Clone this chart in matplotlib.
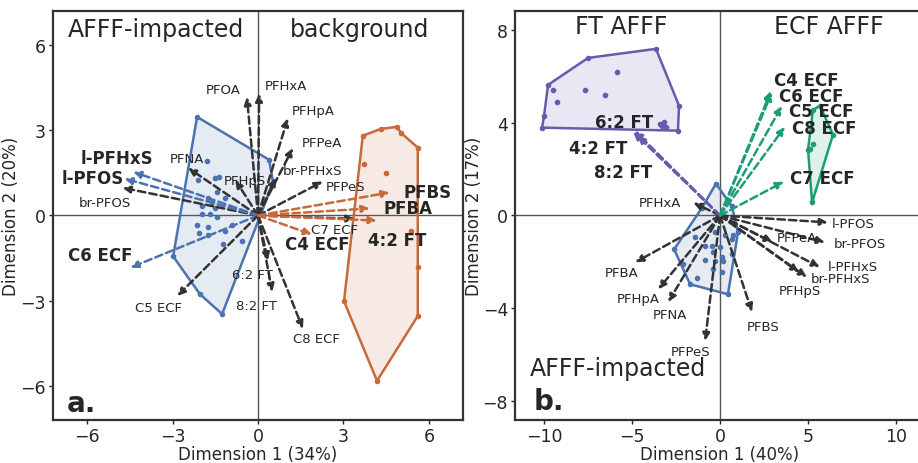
import numpy as np
import matplotlib.pyplot as plt

plt.rcParams['font.family'] = ['DejaVu Sans']
plt.rcParams['text.color'] = '#262626'
plt.rcParams['axes.labelcolor'] = '#262626'
plt.rcParams['xtick.color'] = '#262626'
plt.rcParams['ytick.color'] = '#262626'

BLUE = '#4c72b0'
ORANGE = '#c8693a'
PURPLE = '#6a5aac'
GREEN = '#1b9e77'
DARK = '#333333'

# ---------------- panel a data ----------------
a_names = ['PFOA', 'PFHxA', 'PFHpA', 'PFPeA', 'br-PFHxS', 'PFPeS', 'PFHpS', 'PFNA',
           'br-PFOS', 'l-PFOS', 'l-PFHxS', 'C6 ECF', 'C5 ECF', '6:2 FT', '8:2 FT',
           'C8 ECF', 'C7 ECF', 'C4 ECF', 'PFBS', 'PFBA', '4:2 FT']
a_x = [-0.39, 0.04, 1.05, 1.23, 0.63, 2.28, -0.8, -2.46, -4.77, -4.7, -4.39, -4.49, -2.84,
       0.35, 0.5, 1.58, 3.4, 1.9, 4.63, 3.93, 4.18]
a_y = [4.18, 4.3, 3.43, 2.38, 1.33, 1.2, 1.26, 1.68, 0.98, 1.3, 1.54, -1.84, -2.84,
       -1.6, -2.7, -4.0, -0.12, -0.67, 0.81, 0.25, -0.18]
a_group = ['k', 'k', 'k', 'k', 'k', 'k', 'k', 'k', 'k', 'b', 'b', 'b', 'k', 'k', 'k',
           'k', 'k', 'o', 'o', 'o', 'o']
a_lab_x = [-1.23, 0.98, 1.93, 2.25, 1.93, 3.09, -0.46, -2.49, -5.37, -5.82, -4.95, -5.54,
           -3.51, -0.18, -0.07, 2.04, 2.7, 2.1, 5.96, 5.26, 4.88]
a_lab_y = [4.42, 4.56, 3.68, 2.56, 1.58, 1.02, 1.23, 2.0, 0.46, 1.33, 2.04, -1.4, -3.23,
           -2.07, -3.16, -4.32, -0.49, -1.02, 0.84, 0.28, -0.88]

a_blue_hull_x = [-2.14, 0.39, 0.53, -1.26, -2.04, -2.98]
a_blue_hull_y = [3.47, 1.96, 1.16, -3.47, -2.77, -1.44]
a_blue_pts_x = [-1.79, -2.11, -1.51, -1.37, -1.44, -1.75, -1.61, -1.16, -1.96, -1.51, -0.98,
                -1.96, -1.68, -1.44, -2.14, -1.75, -0.91, -1.16, -2.07, -1.75, -0.56, -1.23]
a_blue_pts_y = [1.93, 1.26, 1.33, 1.37, 0.84, 0.63, 0.49, 0.6, 0.32, 0.28, 0.28,
                0.04, 0.04, -0.07, -0.35, -0.42, -0.35, -0.56, -0.63, -0.67, -0.91, -1.02]

a_orange_hull_x = [3.68, 4.32, 4.88, 5.02, 5.61, 5.61, 4.18, 3.02]
a_orange_hull_y = [2.81, 3.05, 3.12, 2.91, 2.39, -3.54, -5.82, -3.02]
a_orange_pts_x = [3.72, 4.49, 5.37, 5.61]
a_orange_pts_y = [1.82, 1.51, -0.53, -1.82]

# ---------------- panel b data ----------------
b_names = ['PFHxA', 'PFBA', 'PFHpA', 'PFNA', 'PFPeS', 'l-PFOS', 'br-PFOS', 'PFPeA',
           'l-PFHxS', 'br-PFHxS', 'PFHpS', 'PFBS', '6:2 FT', '4:2 FT', '8:2 FT',
           'C4 ECF', 'C6 ECF', 'C5 ECF', 'C8 ECF', 'C7 ECF']
b_x = [-1.53, -4.83, -3.52, -2.95, -0.85, 6.14, 5.97, 3.0, 5.68, 4.94, 4.5, 1.82,
       -4.85, -4.94, -4.7, 2.9, 3.52, 2.95, 3.69, 3.64]
b_y = [0.56, -2.02, -3.18, -3.73, -5.41, -0.3, -1.16, -1.16, -2.23, -2.66, -2.45, -4.16,
       3.65, 3.6, 3.45, 5.36, 4.72, 5.3, 3.82, 1.46]
b_group = ['k'] * 12 + ['p'] * 3 + ['g'] * 5
b_lab_x = [-3.41, -5.57, -4.66, -2.84, -1.7, 7.56, 7.95, 4.38, 7.56, 6.82, 4.55, 2.44,
           -5.45, -6.93, -5.51, 4.89, 5.17, 5.74, 5.91, 5.8]
b_lab_y = [0.56, -2.45, -3.56, -4.25, -5.84, -0.34, -1.2, -0.94, -2.19, -2.7, -3.22, -4.76,
           4.03, 2.92, 1.89, 5.84, 5.15, 4.51, 3.78, 1.63]

b_blue_hull_x = [-0.23, 0.68, 1.02, 0.45, -1.7, -2.61, -1.02]
b_blue_hull_y = [1.37, 0.39, -0.73, -3.39, -2.96, -1.46, 0.34]
b_blue_pts_x = [-1.42, -0.85, -0.28, 0.28, 0.74, 0.68, -0.45, 0.0, -0.4, 0.11, -0.85,
                -0.28, 0.17, -2.1, -1.31, -0.4, 0.11, 0.68]
b_blue_pts_y = [-0.94, -1.33, -0.69, -0.82, -0.82, -1.03, -1.33, -1.37, -1.59, -1.8, -1.93,
                -1.97, -1.97, -2.1, -2.7, -2.32, -2.45, -1.67]

b_purple_hull_x = [-10.11, -10.0, -9.77, -7.5, -3.64, -2.33, -2.39]
b_purple_hull_y = [3.78, 4.29, 5.62, 6.78, 7.17, 4.72, 3.65]
b_purple_pts_x = [-9.49, -9.26, -7.67, -6.53, -5.85, -3.41, -3.2, -3.05, -3.3]
b_purple_pts_y = [5.41, 4.89, 5.41, 5.19, 6.18, 3.95, 4.02, 3.8, 3.85]

b_green_hull_x = [5.28, 5.68, 6.42, 5.23, 5.0]
b_green_hull_y = [4.55, 4.72, 3.48, 0.56, 2.83]
b_green_pts_x = [5.28, 5.1]
b_green_pts_y = [3.09, 2.85]

colors = {'k': DARK, 'b': BLUE, 'o': ORANGE, 'p': PURPLE, 'g': GREEN}


def hull(ax, hx, hy, px, py, c):
    ax.fill(hx, hy, color=c, alpha=0.14, lw=0, zorder=1)
    ax.plot(hx + hx[:1], hy + hy[:1], color=c, lw=1.8, zorder=2)
    ax.plot(hx + px, hy + py, 'o', color=c, ms=3, zorder=2)


def arrows(ax, xs, ys, groups, names, lx, ly):
    for x, y, g, n, tx, ty in zip(xs, ys, groups, names, lx, ly):
        c = colors[g]
        ax.annotate('', xy=(x, y), xytext=(0, 0),
                    arrowprops=dict(arrowstyle='-|>,head_length=0.45,head_width=0.2',
                                    ls=(0, (3, 1.6)), lw=1.8, color=c,
                                    shrinkA=0, shrinkB=0), zorder=3)
        bold = g != 'k'
        ax.text(tx, ty, n, ha='center', va='center', color='#262626',
                fontsize=12 if bold else 9.5,
                fontweight='bold' if bold else 'normal', zorder=4)


def style(ax):
    ax.axhline(0, color='#555555', lw=1, zorder=0)
    ax.axvline(0, color='#555555', lw=1, zorder=0)
    for s in ax.spines.values():
        s.set_color('#333333')
        s.set_linewidth(1.6)
    ax.tick_params(labelsize=12.5, length=3, width=1, pad=2)


fig = plt.figure(figsize=(9.18, 4.64), dpi=100)
ax1 = fig.add_axes([0.0577, 0.0927, 0.4467, 0.8815])
ax2 = fig.add_axes([0.561, 0.0927, 0.4467, 0.8815])

# panel a
style(ax1)
hull(ax1, a_blue_hull_x, a_blue_hull_y, a_blue_pts_x, a_blue_pts_y, BLUE)
hull(ax1, a_orange_hull_x, a_orange_hull_y, a_orange_pts_x, a_orange_pts_y, ORANGE)
arrows(ax1, a_x, a_y, a_group, a_names, a_lab_x, a_lab_y)
ax1.set_xlim(-7.2, 7.2)
ax1.set_ylim(-7.2, 7.2)
ax1.set_xticks([-6, -3, 0, 3, 6])
ax1.set_yticks([-6, -3, 0, 3, 6])
ax1.set_xlabel('Dimension 1 (34%)', fontsize=12, labelpad=0)
ax1.set_ylabel('Dimension 2 (20%)', fontsize=12, labelpad=0)
ax1.text(-3.6, 6.55, 'AFFF-impacted', ha='center', va='center', fontsize=17)
ax1.text(3.55, 6.55, 'background', ha='center', va='center', fontsize=17)
ax1.text(-6.7, -6.6, 'a.', ha='left', va='center', fontsize=20, fontweight='bold')

# panel b
style(ax2)
hull(ax2, b_blue_hull_x, b_blue_hull_y, b_blue_pts_x, b_blue_pts_y, BLUE)
hull(ax2, b_purple_hull_x, b_purple_hull_y, b_purple_pts_x, b_purple_pts_y, PURPLE)
hull(ax2, b_green_hull_x, b_green_hull_y, b_green_pts_x, b_green_pts_y, GREEN)
arrows(ax2, b_x, b_y, b_group, b_names, b_lab_x, b_lab_y)
ax2.set_xlim(-11.65, 11.65)
ax2.set_ylim(-8.8, 8.8)
ax2.set_xticks([-10, -5, 0, 5, 10])
ax2.set_yticks([-8, -4, 0, 4, 8])
ax2.set_xlabel('Dimension 1 (40%)', fontsize=12, labelpad=0)
ax2.set_ylabel('Dimension 2 (17%)', fontsize=12, labelpad=0)
ax2.text(-5.6, 8.15, 'FT AFFF', ha='center', va='center', fontsize=17)
ax2.text(6.2, 8.15, 'ECF AFFF', ha='center', va='center', fontsize=17)
ax2.text(-5.8, -6.55, 'AFFF-impacted', ha='center', va='center', fontsize=17)
ax2.text(-10.6, -8.0, 'b.', ha='left', va='center', fontsize=20, fontweight='bold')

fig.savefig('out.png', dpi=100)
